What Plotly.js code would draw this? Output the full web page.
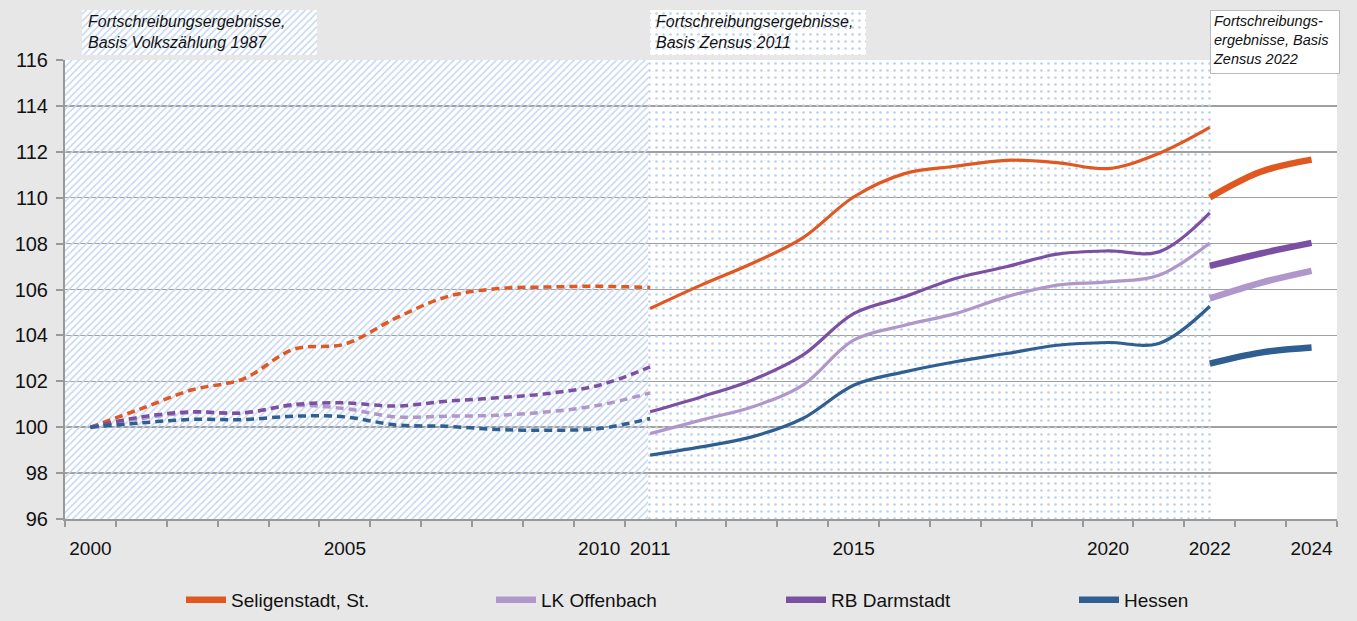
<!DOCTYPE html>
<html><head><meta charset="utf-8">
<script src="https://cdn.plot.ly/plotly-3.0.1.min.js"></script>
<style>body{margin:0;background:#e7e7e7}</style>
</head><body><div id="chart" style="width:1357px;height:621px"></div>
<script>
// ---- data ----
const yearsOld = [2000,2001,2002,2003,2004,2005,2006,2007,2008,2009,2010,2011];
const yearsNew = [2011,2012,2013,2014,2015,2016,2017,2018,2019,2020,2021,2022];
const yearsZ22 = [2022,2023,2024];

const seligOld = [100,100.81,101.63,102.1,103.4,103.62,104.75,105.68,106.04,106.11,106.14,106.09];
const lkOld    = [100,100.38,100.64,100.62,100.94,100.81,100.45,100.48,100.52,100.67,100.96,101.49];
const rbOld    = [100,100.45,100.67,100.62,100.99,101.06,100.92,101.13,101.28,101.47,101.83,102.63];
const hesOld   = [100,100.19,100.34,100.33,100.48,100.45,100.1,100.04,99.9,99.87,99.94,100.38];

const seligNew = [105.17,106.19,107.13,108.25,110.03,111.05,111.37,111.63,111.53,111.27,111.93,113.06];
const lkNew    = [99.72,100.31,100.88,101.83,103.79,104.44,104.95,105.68,106.19,106.33,106.62,108.03];
const rbNew    = [100.67,101.32,102.05,103.14,104.95,105.68,106.48,106.99,107.54,107.68,107.64,109.34];
const hesNew   = [98.78,99.14,99.58,100.38,101.83,102.41,102.85,103.21,103.57,103.69,103.65,105.27];

const seligZ22 = [110.01,111.13,111.66];
const lkZ22    = [105.61,106.29,106.81];
const rbZ22    = [107.03,107.57,108.03];
const hesZ22   = [102.77,103.25,103.47];

const seriesNames = ["Seligenstadt, St.","LK Offenbach","RB Darmstadt","Hessen"];
const tickYears = [2000,2005,2010,2011,2015,2020,2022,2024];
const tickLabels = ["2000","2005","2010","2011","2015","2020","2022","2024"];
const yTicks = [96,98,100,102,104,106,108,110,112,114,116];

// zone boundaries (census bases)
const zoneVZ87 = [1999.5, 2010.95];
const zoneZ11  = [2010.95, 2022.05];

// ---- styling ----
const colors = ["#E0571F","#B097CB","#7B50A3","#2F5E91"];
const FONT = "Liberation Sans, Arial, sans-serif";
const hatch = "#c4d6f1";
const dots = "#bcd0ee";

const oldSets = [seligOld, lkOld, rbOld, hesOld];
const newSets = [seligNew, lkNew, rbNew, hesNew];
const z22Sets = [seligZ22, lkZ22, rbZ22, hesZ22];

const traces = [];
// zone backgrounds
traces.push({type:'bar', x:[(zoneVZ87[0]+zoneVZ87[1])/2], width:[zoneVZ87[1]-zoneVZ87[0]], y:[20], base:[96],
  marker:{color:hatch, line:{width:0}, pattern:{shape:'/', fgcolor:hatch, bgcolor:'rgba(0,0,0,0)', size:5, solidity:0.3, fillmode:'replace'}},
  hoverinfo:'skip', showlegend:false});
traces.push({type:'bar', x:[(zoneZ11[0]+zoneZ11[1])/2], width:[zoneZ11[1]-zoneZ11[0]], y:[20], base:[96],
  marker:{color:dots, line:{width:0}, pattern:{shape:'.', fgcolor:dots, bgcolor:'rgba(0,0,0,0)', size:7, solidity:0.12, fillmode:'replace'}},
  hoverinfo:'skip', showlegend:false});

// label box backgrounds (top strip subplot)
const px2yr = p => 1999.5 + (p-65)/(1272/25);
const box1 = [px2yr(82), px2yr(317)];
const box2 = [px2yr(650), px2yr(866)];
traces.push({type:'bar', xaxis:'x2', yaxis:'y2', x:[(box1[0]+box1[1])/2], width:[box1[1]-box1[0]], y:[1], base:[0],
  marker:{color:hatch, line:{width:0}, pattern:{shape:'/', fgcolor:hatch, bgcolor:'white', size:5, solidity:0.3}},
  hoverinfo:'skip', showlegend:false});
traces.push({type:'bar', xaxis:'x2', yaxis:'y2', x:[(box2[0]+box2[1])/2], width:[box2[1]-box2[0]], y:[1], base:[0],
  marker:{color:dots, line:{width:0}, pattern:{shape:'.', fgcolor:dots, bgcolor:'white', size:7, solidity:0.12}},
  hoverinfo:'skip', showlegend:false});

const legendIds = ['legend','legend2','legend3','legend4'];
for (let i=0;i<4;i++){
  traces.push({type:'scatter', mode:'lines', x:yearsOld, y:oldSets[i], line:{color:colors[i], width:3.5, dash:'8px,5px', shape:'spline', smoothing:1},
    showlegend:false, hoverinfo:'skip'});
  traces.push({type:'scatter', mode:'lines', x:yearsNew, y:newSets[i], line:{color:colors[i], width:3.2, shape:'spline', smoothing:1},
    showlegend:false, hoverinfo:'skip'});
  traces.push({type:'scatter', mode:'lines', x:yearsZ22, y:z22Sets[i], line:{color:colors[i], width:6.5, shape:'spline', smoothing:1},
    name:seriesNames[i], legend:legendIds[i], showlegend:true, hoverinfo:'skip'});
}

const minorVals = [];
for (let y=1999.5; y<=2024.5; y+=1) minorVals.push(y);

const AREA_H = 621-8-102;
const py = p => (519 - p)/AREA_H;
const pxp = p => (p - 65)/1272;

const legendBase = {orientation:'h', xref:'container', yref:'container', xanchor:'left', yanchor:'middle',
  y:1-600/621, bgcolor:'rgba(0,0,0,0)', font:{family:FONT, size:19, color:'#111'}, itemwidth:40, tracegroupgap:0};
const legendX = [181, 491, 781, 1074];

const layout = {
  width:1357, height:621,
  paper_bgcolor:'#e7e7e7', plot_bgcolor:'#e7e7e7',
  margin:{l:65, r:20, t:8, b:102},
  barmode:'overlay', bargap:0,
  font:{family:FONT, size:19, color:'#111'},
  xaxis:{range:[1999.5,2024.5], domain:[0,1], tickmode:'array', tickvals:tickYears, ticktext:tickLabels, ticks:'', ticklabelstandoff:11,
    showgrid:false, showline:true, linecolor:'#999', linewidth:2, zeroline:false, anchor:'y',
    tickfont:{family:FONT, size:19, color:'#111'},
    minor:{tickvals:minorVals, ticks:'outside', ticklen:6, tickwidth:2, tickcolor:'#999', showgrid:false}},
  yaxis:{range:[96,116], domain:[0,459/AREA_H], tickmode:'array', tickvals:yTicks, ticks:'outside', ticklen:7, tickwidth:2, tickcolor:'#999',
    showgrid:true, gridcolor:'#a0a0a0', gridwidth:1.5, showline:true, linecolor:'#999', linewidth:2, zeroline:false,
    tickfont:{family:FONT, size:20, color:'#111'}, ticklabelstandoff:4},
  xaxis2:{range:[1999.5,2024.5], domain:[0,1], anchor:'y2', visible:false},
  yaxis2:{range:[0,1], domain:[py(55), py(10)], anchor:'x2', visible:false},
  shapes:[{type:'rect', xref:'x domain', yref:'y domain', x0:0, x1:1, y0:0, y1:1, fillcolor:'white', line:{width:0}, layer:'below'}],
  annotations:[
    {xref:'paper', yref:'paper', x:pxp(86), y:py(11), xanchor:'left', yanchor:'top', align:'left', showarrow:false,
     text:'<i>Fortschreibungsergebnisse,<br>Basis Volkszählung 1987</i>', font:{family:FONT, size:16, color:'#111'}},
    {xref:'paper', yref:'paper', x:pxp(654), y:py(11), xanchor:'left', yanchor:'top', align:'left', showarrow:false,
     text:'<i>Fortschreibungsergebnisse,<br>Basis Zensus 2011</i>', font:{family:FONT, size:16, color:'#111'}},
    {xref:'paper', yref:'paper', x:pxp(1210), y:py(10), xanchor:'left', yanchor:'top', align:'left', valign:'top', showarrow:false,
     width:124, height:58, borderpad:2, bgcolor:'white', bordercolor:'#bbb', borderwidth:1,
     text:'<i>Fortschreibungs-<br>ergebnisse, Basis<br>Zensus 2022</i>', font:{family:FONT, size:14.5, color:'#111'}}
  ]
};
legendIds.forEach((id,i)=>{ layout[id] = Object.assign({}, legendBase, {x:legendX[i]/1357}); });

Plotly.newPlot('chart', traces, layout, {displayModeBar:false, staticPlot:true});
</script></body></html>
